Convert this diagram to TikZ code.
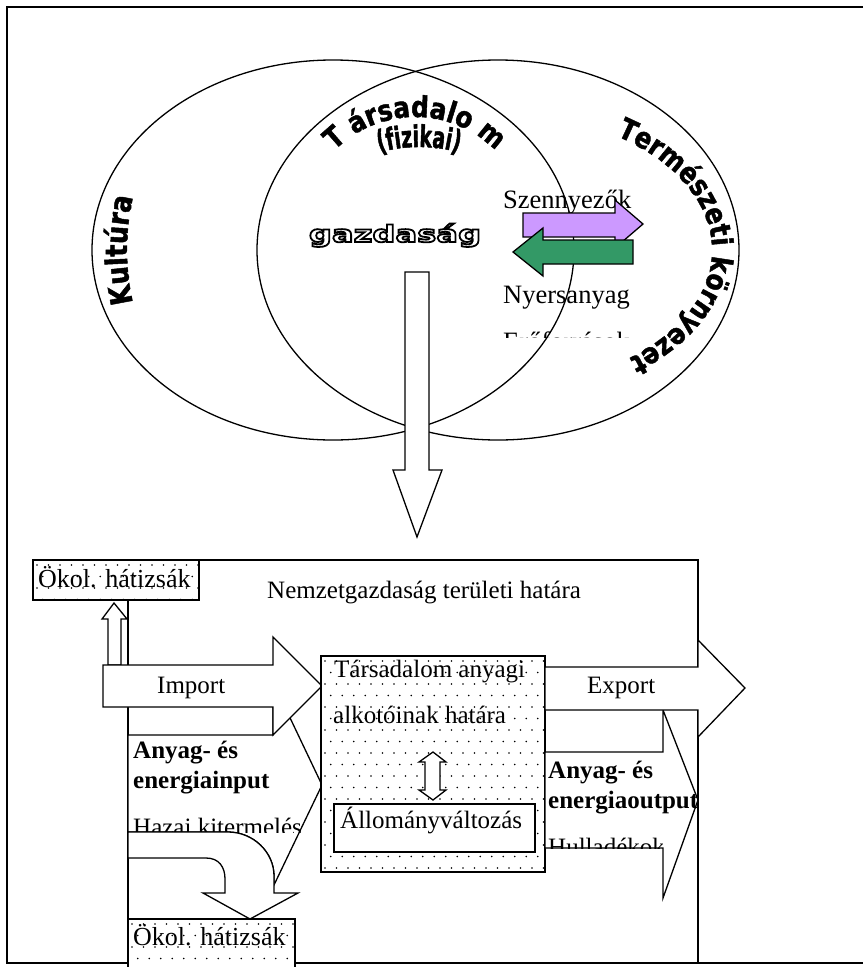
\documentclass[tikz,border=0pt]{standalone}
\usepackage{fontspec}
\setmainfont{Liberation Serif}
\newfontfamily\waK[FakeStretch=0.85,FakeBold=1.5]{DejaVu Sans}
\newfontfamily\waF[FakeStretch=0.62,FakeBold=1.5]{DejaVu Sans}
\newfontfamily\waG[FakeStretch=1.4]{DejaVu Sans}
\usetikzlibrary{decorations.text}
\definecolor{lila}{HTML}{CC99FF}
\definecolor{zold}{HTML}{339966}
\newcommand\fKul{\waK\bfseries\fontsize{30}{30}\selectfont}
\newcommand\fTer{\waK\bfseries\fontsize{29}{29}\selectfont}
\newcommand\fTar{\waK\bfseries\fontsize{29}{29}\selectfont}
\newcommand\fFiz{\waF\bfseries\fontsize{30}{30}\selectfont}
\newcommand\outlined[1]{\special{pdf:literal direct 2 Tr 0 G 1.8 w}#1\special{pdf:literal direct 0 Tr}}
\newcommand\dotgrid[6]{%
  \begin{scope}
    \clip (#1,#2) rectangle (#3,#4);
    \foreach \i in {0,...,#5} {\foreach \j in {0,...,#6} {
      \fill ({#1+4+11.5*\i+5.75*mod(\j,2)},{#2+5+11.5*\j}) circle[radius=0.8pt];
    }}
  \end{scope}}
\tikzset{
  ln/.style={line width=1.3pt, line join=miter},
  hollow/.style={ln, draw=black, fill=white},
  lbl/.style={anchor=base west, inner sep=0pt, font=\fontsize{25}{30}\selectfont},
  lblb/.style={anchor=base west, inner sep=0pt, font=\fontsize{25}{30}\selectfont\bfseries},
  gz/.style={anchor=base, inner sep=0pt, font=\waG\bfseries\fontsize{23}{23}\selectfont},
}
\begin{document}
\begin{tikzpicture}[x=1pt,y=-1pt]
\useasboundingbox (0,0) rectangle (863,967);
\clip (0,0) rectangle (863,967);
% frame
\draw[ln] (863,7) -- (7,7) -- (7,963) -- (863,963);
% gazdasag outlined (white letters, black outline)
\node[gz, text=white] (gazd) at (395,242) {\outlined{gazdaság}};
% ellipses
\draw[ln] (333,250) ellipse [x radius=241, y radius=190];
\draw[ln] (498,250) ellipse [x radius=241, y radius=190];
% curved word-art texts
\path[decorate, decoration={text along path, text={|\fKul|Kultúra}, text align=center}]
  ({333+206*cos(155)},{250+220*sin(155)}) arc[start angle=155, end angle=205, x radius=206, y radius=220];
\path[decorate, decoration={text along path, text={|\fTer|Természeti környezet}, text align=center}]
  ({498+214*cos(-62)},{250+137*sin(-62)}) arc[start angle=-62, end angle=58, x radius=214, y radius=137];
\path[decorate, decoration={text along path, text={|\fTar|T ársadalo m}, text align=center}]
  ({415+113*cos(-150)},{230+113*sin(-150)}) arc[start angle=-150, end angle=-30, radius=113];
\path[decorate, decoration={text along path, text={|\fFiz|(fizikai)}, text align=center}]
  ({419+150*cos(-114)},{297+150*sin(-114)}) arc[start angle=-114, end angle=-66, radius=150];
% flows with the environment
\node[lbl, font=\fontsize{26.5}{30}\selectfont] (szenny) at (503,208) {Szennyezők};
\node[lbl, font=\fontsize{26.5}{30}\selectfont] (nyers) at (503,303) {Nyersanyag};
\begin{scope}
  \clip (490,300) rectangle (670,337);
  \node[lbl, font=\fontsize{26.5}{30}\selectfont] (erof) at (503,350) {Erőforrások};
\end{scope}
\draw[ln, fill=lila] (523,213) -- (615,213) -- (615,200) -- (643,224) -- (615,248) -- (615,237) -- (523,237) -- cycle;
\draw[ln, fill=zold] (633,240) -- (543,240) -- (543,228) -- (513,252) -- (543,276) -- (543,264) -- (633,264) -- cycle;
% big down arrow
\draw[hollow] (405,272) -- (429,272) -- (429,470) -- (442,470) -- (417,537) -- (393,470) -- (405,470) -- cycle;
% national economy boundary
\draw[ln] (128,560) rectangle (698,963);
\node[lbl] (nemzet) at (267,598) {Nemzetgazdaság területi határa};
% top ecological rucksack
\fill[white] (33,560) rectangle (199,600);
\dotgrid{33}{560}{199}{600}{15}{3}
\draw[ln] (33,560) rectangle (199,600);
\node[lbl, font=\fontsize{26}{30}\selectfont] (okol1) at (38,587) {Ökol. hátizsák};
% up arrow
\draw[hollow] (108,665) -- (108,619) -- (102,619) -- (114,603) -- (127,619) -- (121,619) -- (121,665) -- cycle;
% input arrow
\draw[hollow] (128,735) -- (273,735) -- (273,682) -- (322,785) -- (274,885) -- (274,876) .. controls (274,852) and (253,832) .. (228,832) -- (128,832) -- cycle;
\node[lblb] (in1) at (133,758) {Anyag- és};
\node[lblb] (in2) at (133,788) {energiainput};
\begin{scope}
  \clip (129,800) rectangle (330,832);
  \node[lbl] (hazai) at (133,835) {Hazai kitermelés};
\end{scope}
% import arrow
\draw[hollow] (103,665) -- (273,665) -- (273,637) -- (322,686) -- (273,735) -- (273,707) -- (103,707) -- cycle;
\node[lbl] (import) at (157,693) {Import};
% curved arrow
\draw[hollow] (128,832) -- (228,832) .. controls (253,832) and (274,852) .. (274,876) -- (274,893) -- (298,893) -- (250,919) -- (203,893) -- (225,893) -- (225,879) .. controls (225,867) and (219,858) .. (206,858) -- (128,858) -- cycle;
% bottom ecological rucksack
\fill[white] (128,919) rectangle (295,980);
\dotgrid{128}{919}{295}{980}{15}{5}
\draw[ln] (128,919) rectangle (295,980);
\node[lbl, font=\fontsize{26}{30}\selectfont] (okol2) at (133,945) {Ökol. hátizsák};
% society material boundary
\fill[white] (321,656) rectangle (545,872);
\dotgrid{321}{656}{545}{872}{20}{19}
\draw[ln] (321,656) rectangle (545,872);
\node[lbl] (tars1) at (334,677) {Társadalom anyagi};
\node[lbl] (tars2) at (333,723) {alkotóinak határa};
\draw[hollow] (433,752) -- (446,762) -- (440,762) -- (440,790) -- (446,790) -- (433,800) -- (419,790) -- (425,790) -- (425,762) -- (419,762) -- cycle;
\draw[hollow] (334,804) rectangle (535,852);
\node[lbl] (allom) at (340,828) {Állományváltozás};
% output arrow
\draw[hollow] (545,752) -- (663,752) -- (663,710) -- (698,800) -- (663,898) -- (663,848) -- (545,848) -- cycle;
\node[lblb] (out1) at (548,778) {Anyag- és};
\node[lblb] (out2) at (548,808) {energiaoutput};
\begin{scope}
  \clip (546,820) rectangle (662,848);
  \node[lbl] (hull) at (548,855) {Hulladékok};
\end{scope}
% export arrow
\draw[hollow] (545,667) -- (698,667) -- (698,640) -- (745,688) -- (698,737) -- (698,710) -- (545,710) -- cycle;
\node[lbl] (export) at (587,693) {Export};
\end{tikzpicture}
\end{document}
